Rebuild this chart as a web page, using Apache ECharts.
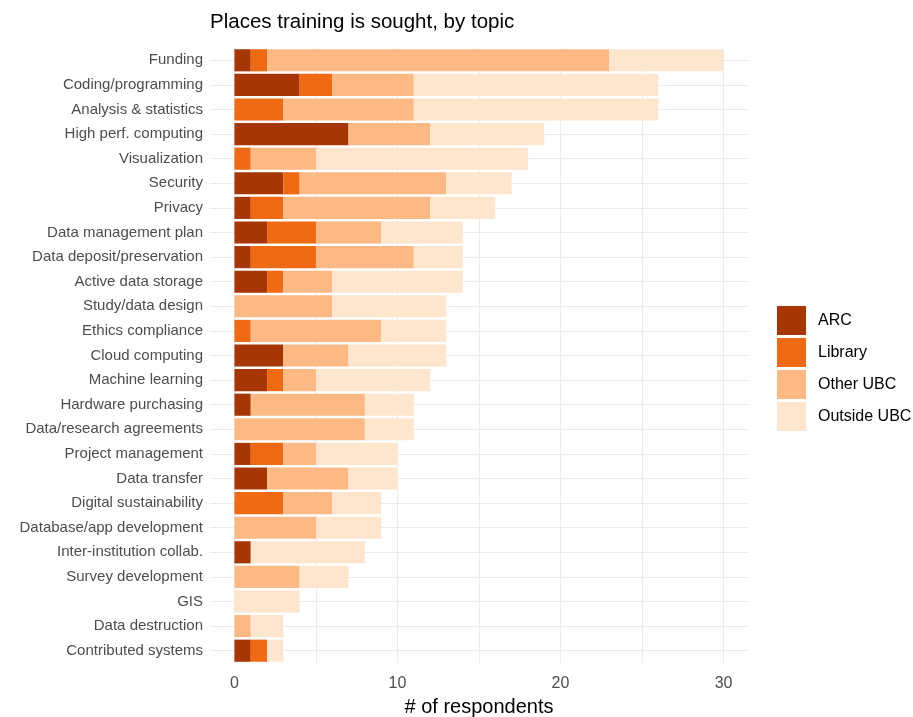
<!DOCTYPE html>
<html>
<head>
<meta charset="utf-8">
<script src="https://cdn.jsdelivr.net/npm/echarts@6/dist/echarts.min.js"></script>
<style>
  html, body { margin: 0; padding: 0; background: #fff; }
  #chart { width: 913px; height: 717px; }
</style>
</head>
<body>
<div id="chart"></div>
<script>
  // topics, top to bottom
  const categories = [
    'Funding', 'Coding/programming', 'Analysis & statistics', 'High perf. computing',
    'Visualization', 'Security', 'Privacy', 'Data management plan',
    'Data deposit/preservation', 'Active data storage', 'Study/data design',
    'Ethics compliance', 'Cloud computing', 'Machine learning', 'Hardware purchasing',
    'Data/research agreements', 'Project management', 'Data transfer',
    'Digital sustainability', 'Database/app development', 'Inter-institution collab.',
    'Survey development', 'GIS', 'Data destruction', 'Contributed systems'
  ];

  const arc        = [1, 4, 0, 7, 0, 3, 1, 2, 1, 2, 0, 0, 3, 2, 1, 0, 1, 2, 0, 0, 1, 0, 0, 0, 1];
  const library    = [1, 2, 3, 0, 1, 1, 2, 3, 4, 1, 0, 1, 0, 1, 0, 0, 2, 0, 3, 0, 0, 0, 0, 0, 1];
  const otherUbc   = [21, 5, 8, 5, 4, 9, 9, 4, 6, 3, 6, 8, 4, 2, 7, 8, 2, 5, 3, 5, 0, 4, 0, 1, 0];
  const outsideUbc = [7, 15, 15, 7, 13, 4, 4, 5, 3, 8, 7, 4, 6, 7, 3, 3, 5, 3, 3, 4, 7, 3, 4, 2, 1];

  const seriesNames = ['ARC', 'Library', 'Other UBC', 'Outside UBC'];
  const colors = ['#a63603', '#f06a14', '#fdb983', '#fee5cd'];

  const font = "'Liberation Sans', Arial, sans-serif";
  const chart = echarts.init(document.getElementById('chart'));

  const barSeries = [arc, library, otherUbc, outsideUbc].map(function (vals, i) {
    return {
      name: seriesNames[i],
      type: 'bar',
      stack: 'total',
      barWidth: '90%',
      z: 2,
      itemStyle: { color: colors[i] },
      data: vals
    };
  });

  // faint horizontal grid lines through each category centre (like ggplot)
  const gridLines = {
    name: 'grid',
    type: 'line',
    data: [],
    z: 1,
    silent: true,
    markLine: {
      z: 1,
      silent: true,
      animation: false,
      symbol: 'none',
      label: { show: false },
      lineStyle: { color: '#ebebeb', type: 'solid', width: 1 },
      data: categories.map(function (c) { return { yAxis: c }; })
    }
  };

  chart.setOption({
    animation: false,
    textStyle: { fontFamily: font },
    title: {
      text: 'Places training is sought, by topic',
      left: 205,
      top: 7,
      textStyle: { fontFamily: font, fontSize: 20.5, fontWeight: 'normal', color: '#000' }
    },
    legend: {
      data: seriesNames,
      orient: 'vertical',
      left: 772,
      top: 301,
      icon: 'rect',
      itemWidth: 29,
      itemHeight: 29,
      itemGap: 3,
      textStyle: { fontFamily: font, fontSize: 16, color: '#000', padding: [0, 0, 0, 7] }
    },
    grid: { left: 210, right: 165, top: 48, bottom: 54, outerBoundsMode: 'none' },
    xAxis: {
      type: 'value',
      min: -1.5,
      max: 31.5,
      splitNumber: 7,
      name: '# of respondents',
      nameLocation: 'middle',
      nameGap: 34,
      nameTextStyle: { fontFamily: font, fontSize: 20, color: '#000' },
      axisLine: { show: false },
      axisTick: { show: false },
      axisLabel: {
        showMinLabel: false,
        showMaxLabel: false,
        margin: 13,
        fontFamily: font,
        fontSize: 16,
        color: '#4d4d4d',
        formatter: function (v) { return v % 10 === 0 ? String(v) : ''; }
      },
      splitLine: {
        show: true,
        showMinLine: false,
        showMaxLine: false,
        lineStyle: { color: '#ebebeb', width: 1 }
      }
    },
    yAxis: {
      type: 'category',
      inverse: true,
      data: categories,
      axisLine: { show: false },
      axisTick: { show: false },
      splitLine: { show: false },
      axisLabel: { margin: 7, fontFamily: font, fontSize: 15, color: '#4d4d4d' }
    },
    series: [gridLines].concat(barSeries)
  });
</script>
</body>
</html>
